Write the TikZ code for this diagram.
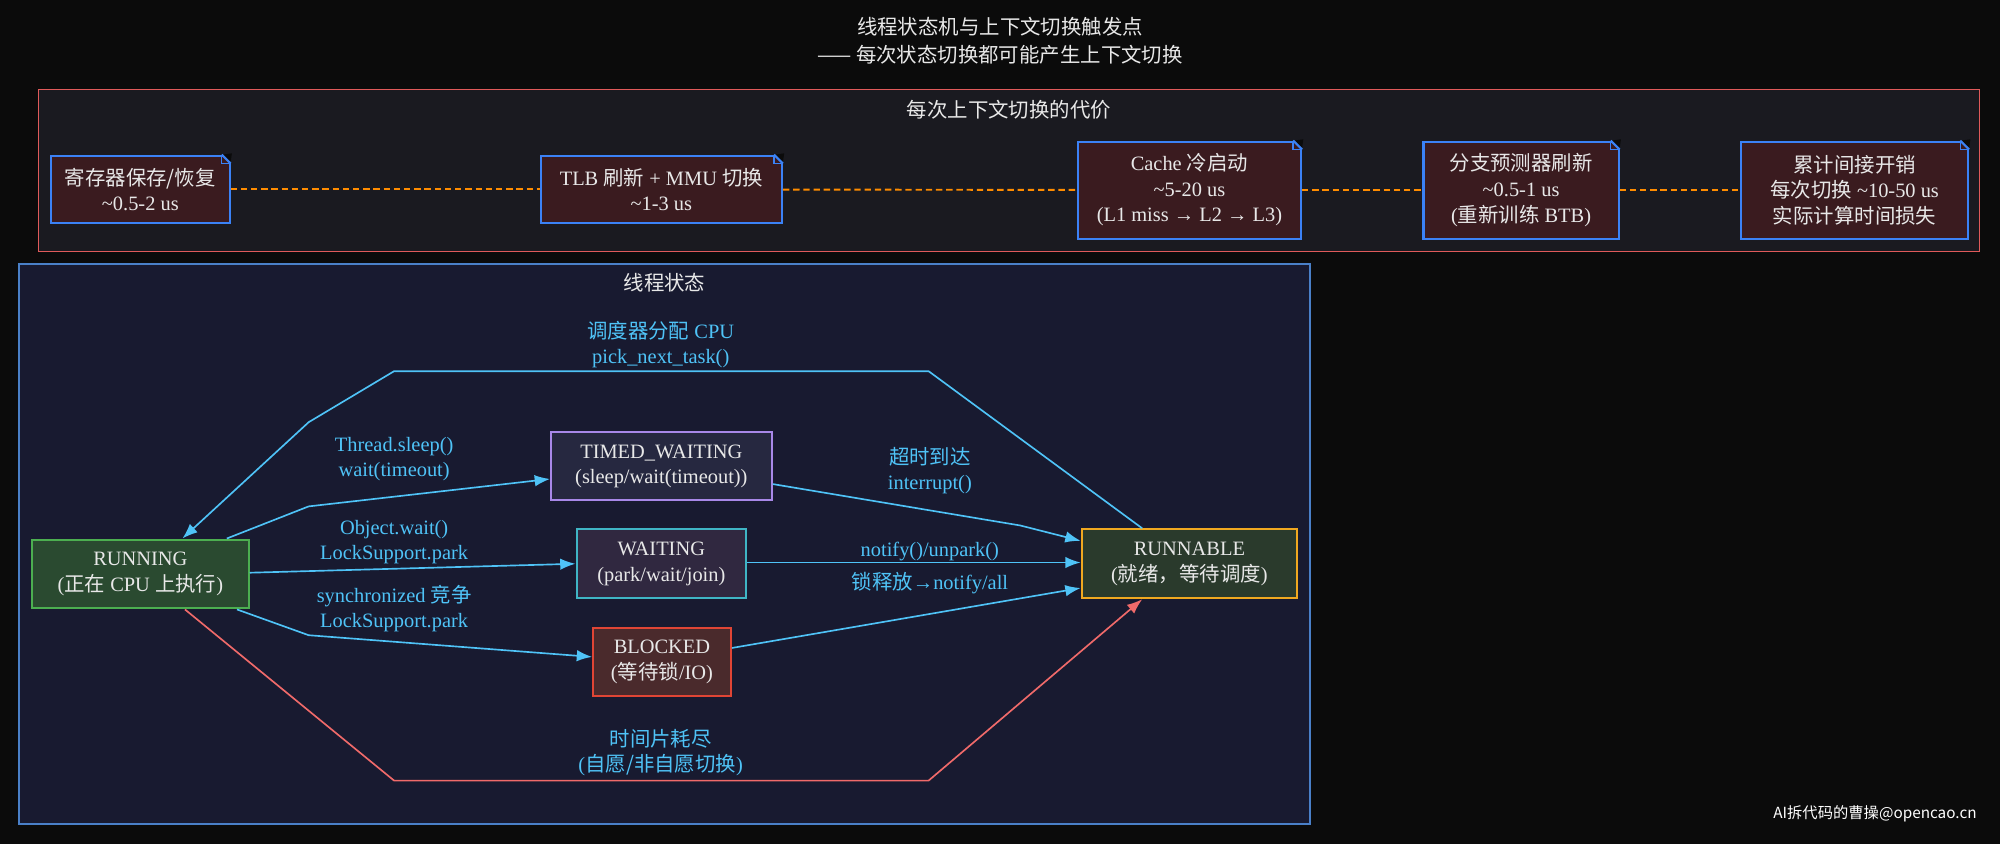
\documentclass[tikz,border=0pt]{standalone}
\usepackage{fontspec}
\setmainfont{Liberation Serif}
\newfontfamily\cjk{Noto Sans CJK SC}
\newcommand\zh[1]{{\cjk #1}}
\usetikzlibrary{arrows.meta}
\definecolor{bg}{HTML}{0B0B0B}
\definecolor{cyanc}{HTML}{4FC3F7}
\definecolor{txt}{HTML}{E8E8E8}
\definecolor{nb}{HTML}{3B82F6}
\definecolor{notefill}{HTML}{3A1B1F}
\definecolor{redb}{HTML}{E05A5A}
\definecolor{cfill}{HTML}{1A1A20}
\definecolor{sbor}{HTML}{4A80C8}
\definecolor{sfill}{HTML}{181A30}
\definecolor{gb}{HTML}{4CAF50}\definecolor{gf}{HTML}{2A4A30}
\definecolor{pb}{HTML}{A888E8}\definecolor{pf}{HTML}{262840}
\definecolor{tb}{HTML}{3FB5C5}\definecolor{tf}{HTML}{302840}
\definecolor{rb}{HTML}{E04535}\definecolor{rf}{HTML}{4A2A2C}
\definecolor{ob}{HTML}{F0A820}\definecolor{of}{HTML}{2A3A2C}
\definecolor{redline}{HTML}{F06A6A}
\tikzset{
 x=1pt,y=-1pt,
 base/.style={font=\fontsize{16}{20}\selectfont,text=txt,align=center,inner sep=0,line width=1.6pt},
 notebox/.style={base,draw=nb,fill=notefill},
 st/.style={base},
 edge/.style={draw=cyanc,line width=1.3pt,-{Latex[length=12pt,width=9pt]}},
 lab/.style={text=cyanc,font=\fontsize{16}{20}\selectfont,align=center},
 dl/.style={draw=orange!90!yellow,dash pattern=on 5pt off 3pt,line width=1.5pt},
}
\begin{document}
\begin{tikzpicture}
\fill[bg] (0,0) rectangle (1568,662);
\useasboundingbox (0,0) rectangle (1568,662);
\node[base,font=\fontsize{16}{22}\selectfont] (title) at (784,32) {\zh{线程状态机与上下文切换触发点}\\\zh{—— 每次状态切换都可能产生上下文切换}};
% cost cluster
\draw[draw=redb,fill=cfill,line width=1.2pt] (30,70) rectangle (1552,197);
\node[base,font=\fontsize{16}{20}\selectfont] (ctitle) at (791,86) {\zh{每次上下文切换的代价}};
\node[notebox,minimum width=140,minimum height=53] (n1) at (110,148.5) {\zh{寄存器保存/恢复}\\\textasciitilde 0.5-2 us};
\node[notebox,minimum width=189,minimum height=53] (n2) at (518.5,148.5) {TLB \zh{刷新} + MMU \zh{切换}\\\textasciitilde 1-3 us};
\node[notebox,minimum width=175,minimum height=76] (n3) at (932.5,149) {Cache \zh{冷启动}\\\textasciitilde 5-20 us\\(L1 miss → L2 → L3)};
\node[notebox,minimum width=153,minimum height=76] (n4) at (1192.5,149) {\zh{分支预测器刷新}\\\textasciitilde 0.5-1 us\\(\zh{重新训练} BTB)};
\node[notebox,minimum width=178,minimum height=76] (n5) at (1454,149) {\zh{累计间接开销}\\\zh{每次切换} \textasciitilde 10-50 us\\\zh{实际计算时间损失}};
\foreach \n in {n1,n2,n3,n4,n5}{
 \fill[bg] ([xshift=-6pt]\n.north east) -- ([yshift=-6pt]\n.north east) -- ([xshift=1pt,yshift=1pt]\n.north east) -- cycle;
 \draw[draw=nb,line width=1pt] ([xshift=-7pt]\n.north east) -- ++(0,7) -- ++(7,0);
 \draw[draw=nb,line width=1.6pt] ([xshift=-7pt]\n.north east) -- ([yshift=-7pt]\n.north east);}
\draw[dl] (n1) -- (n2);
\draw[dl] (n2) -- (n3);
\draw[dl] (n3) -- (n4);
\draw[dl] (n4) -- (n5);
% states cluster
\draw[draw=sbor,fill=sfill,line width=1.2pt] (15,207) rectangle (1027,646);
\node[base,font=\fontsize{16}{20}\selectfont] (stitle) at (521,222) {\zh{线程状态}};
\node[st,draw=gb,fill=gf,minimum width=170,minimum height=54] (run) at (110,450) {RUNNING\\(\zh{正在} CPU \zh{上执行})};
\node[st,draw=pb,fill=pf,minimum width=173,minimum height=53] (tw) at (518.5,365.5) {TIMED\_WAITING\\(sleep/wait(timeout))};
\node[st,draw=tb,fill=tf,minimum width=133,minimum height=54] (wt) at (518.5,442) {WAITING\\(park/wait/join)};
\node[st,draw=rb,fill=rf,minimum width=108,minimum height=54] (bl) at (519,519) {BLOCKED\\(\zh{等待锁}/IO)};
\node[st,draw=ob,fill=of,minimum width=169,minimum height=54] (rn) at (932.5,442) {RUNNABLE\\(\zh{就绪，等待调度})};
\coordinate (a1) at (728,291); \coordinate (a2) at (309,291); \coordinate (a3) at (242,331);
\draw[edge] ([xshift=-37pt]rn.north) -- (a1) -- (a2) -- (a3) -- ([xshift=33pt]run.north);
\node[lab] (l1) at (518,270) {\zh{调度器分配} CPU\\pick\_next\_task()};
\coordinate (b1) at (242,397);
\draw[edge] ([xshift=-18pt]run.north east) -- (b1) -- ([yshift=-10pt]tw.west);
\node[lab] (l2) at (309,360) {Thread.sleep()\\wait(timeout)};
\coordinate (c1) at (800,412);
\draw[edge] ([yshift=-14pt]tw.east) -- (c1) -- ([yshift=18pt]rn.west);
\node[lab] (l3) at (729,369) {\zh{超时到达}\\interrupt()};
\draw[edge] ([yshift=1pt]run.east) -- (wt.west);
\node[lab] (l4) at (309,425) {Object.wait()\\LockSupport.park};
\draw[edge] ([yshift=1pt]wt.east) -- ([yshift=1pt]rn.west);
\node[lab] (l5) at (729,432) {notify()/unpark()};
\draw[edge] ([yshift=11pt]bl.east) -- ([yshift=-19pt]rn.west);
\node[lab] (l6) at (729,457) {\zh{锁释放}→notify/all};
\coordinate (d1) at (242,498);
\draw[edge] ([xshift=-10pt]run.south east) -- (d1) -- ([yshift=4pt]bl.west);
\node[lab] (l7) at (309,477) {synchronized \zh{竞争}\\LockSupport.park};
\coordinate (e1) at (309,612); \coordinate (e2) at (728,612);
\draw[edge,draw=redline] ([xshift=35pt]run.south) -- (e1) -- (e2) -- ([xshift=-37pt]rn.south);
\node[lab] (l8) at (518,590) {\zh{时间片耗尽}\\(\zh{自愿/非自愿切换})};
\node[text=white,font=\cjk\fontsize{12}{14}\selectfont] (wm) at (1470,638) {AI拆代码的曹操@opencao.cn};
\end{tikzpicture}
\end{document}
